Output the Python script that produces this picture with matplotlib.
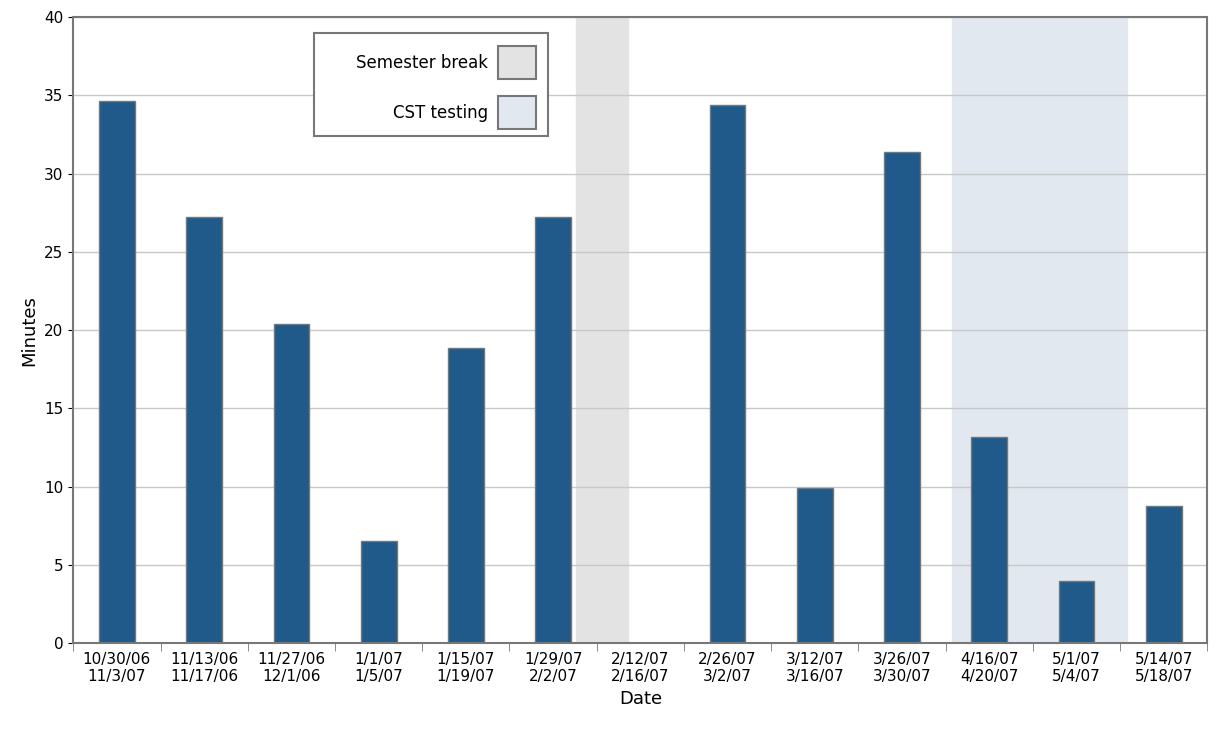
import matplotlib.pyplot as plt
from matplotlib.patches import Rectangle

weeks = ["10/30/06\n11/3/07", "11/13/06\n11/17/06", "11/27/06\n12/1/06", "1/1/07\n1/5/07",
         "1/15/07\n1/19/07", "1/29/07\n2/2/07", "2/12/07\n2/16/07", "2/26/07\n3/2/07",
         "3/12/07\n3/16/07", "3/26/07\n3/30/07", "4/16/07\n4/20/07", "5/1/07\n5/4/07",
         "5/14/07\n5/18/07"]
minutes = [34.6, 27.2, 20.4, 6.5, 18.85, 27.2, 0, 34.4, 9.9, 31.4, 13.2, 3.95, 8.75]

fig = plt.figure(figsize=(12.22, 7.36), dpi=100)
ax = fig.add_axes([0.06, 0.126, 0.928, 0.851])

ax.axvspan(5.26, 5.86, color="#e3e3e3", zorder=0)
ax.axvspan(9.57, 11.58, color="#e2e8f0", zorder=0)
ax.yaxis.grid(True, color="#c8c8c8", linewidth=1, zorder=1)
ax.bar(range(len(weeks)), minutes, width=0.41, color="#1f5a8a",
       edgecolor="#777777", linewidth=1, zorder=2)

ax.set_xlim(-0.5, 12.5)
ax.set_ylim(0, 40)
ax.set_yticks(range(0, 41, 5))
ax.set_xticks(range(len(weeks)))
ax.set_xticklabels(weeks, fontsize=11)
ax.tick_params(axis="y", labelsize=11)
ax.set_xticks([i + 0.5 for i in range(-1, 13)], minor=True)
ax.tick_params(axis="x", which="major", length=0, pad=6)
ax.tick_params(axis="x", which="minor", length=6, color="#777777")
for s in ax.spines.values():
    s.set_color("#777777")
    s.set_linewidth(1.5)
ax.set_xlabel("Date", fontsize=13)
ax.set_ylabel("Minutes", fontsize=13)

# legend box
box = Rectangle((314, 600), 234, 103, transform=None, facecolor="white",
                edgecolor="#777777", linewidth=1.5, zorder=5)
fig.patches.append(box)
fig.patches.append(Rectangle((498, 657), 38, 33, transform=None, facecolor="#e3e3e3",
                             edgecolor="#777777", linewidth=1.5, zorder=6))
fig.patches.append(Rectangle((498, 607), 38, 33, transform=None, facecolor="#e2e8f0",
                             edgecolor="#777777", linewidth=1.5, zorder=6))
fig.text(488 / 1222, 673 / 736, "Semester break", ha="right", va="center", fontsize=12, zorder=7)
fig.text(488 / 1222, 623 / 736, "CST testing", ha="right", va="center", fontsize=12, zorder=7)

fig.savefig("out.png")
